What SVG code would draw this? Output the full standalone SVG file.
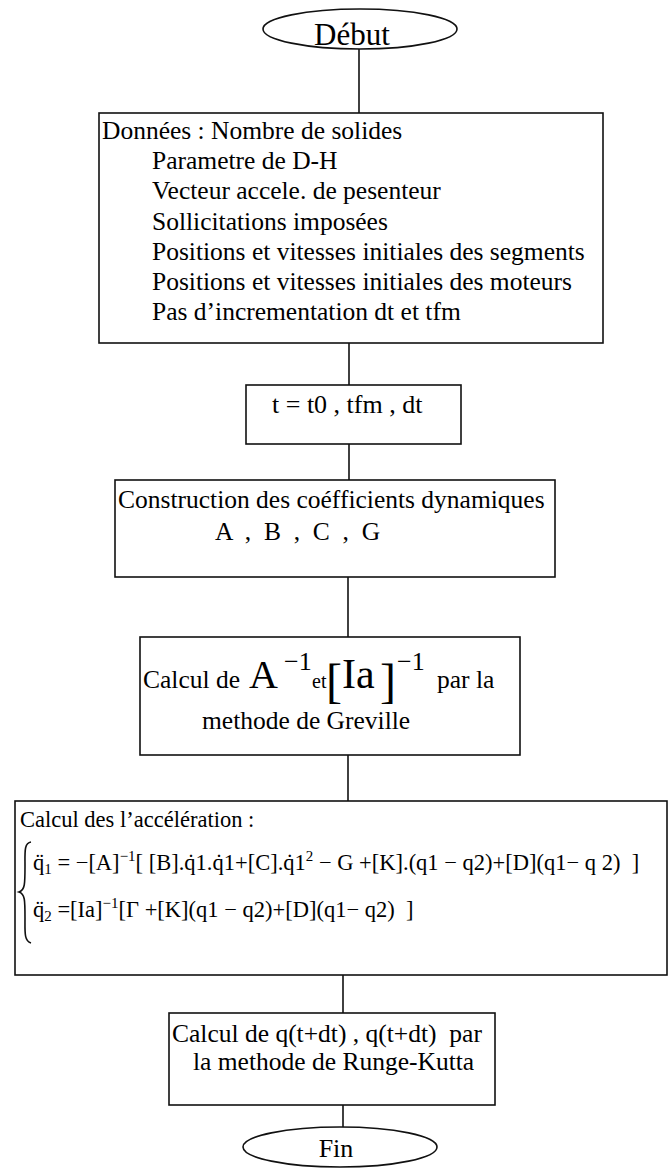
<svg xmlns="http://www.w3.org/2000/svg" width="671" height="1170" viewBox="0 0 671 1170">
<style>
.t{font-family:"Liberation Serif","Times New Roman",serif;fill:#000;font-size:25.5px;white-space:pre}
.s{font-size:22.5px}
.box{fill:#fff;stroke:#111;stroke-width:1.6}
.ln{stroke:#111;stroke-width:1.6;fill:none}
</style>
<rect width="671" height="1170" fill="#fff"/>
<g id="connectors">
<line class="ln" x1="359" y1="49" x2="359" y2="113"/>
<line class="ln" x1="349" y1="343" x2="349" y2="385"/>
<line class="ln" x1="349" y1="444" x2="349" y2="480"/>
<line class="ln" x1="348" y1="577" x2="348" y2="637"/>
<line class="ln" x1="348" y1="755" x2="348" y2="801"/>
<line class="ln" x1="343" y1="975" x2="343" y2="1013"/>
<line class="ln" x1="343" y1="1105" x2="343" y2="1128"/>
</g>
<g id="debut">
<ellipse class="box" cx="360" cy="29" rx="97" ry="20"/>
<text class="t" x="352" y="45" text-anchor="middle" style="font-size:31px">Début</text>
</g>
<g id="donnees">
<rect class="box" x="99" y="113" width="504" height="230"/>
<text class="t" x="102" y="139">Données : Nombre de solides</text>
<text class="t" x="152" y="169">Parametre de D-H</text>
<text class="t" x="152" y="199">Vecteur accele. de pesenteur</text>
<text class="t" x="152" y="230">Sollicitations imposées</text>
<text class="t" x="152" y="260">Positions et vitesses initiales des segments</text>
<text class="t" x="152" y="290">Positions et vitesses initiales des moteurs</text>
<text class="t" x="152" y="320">Pas d’incrementation dt et tfm</text>
</g>
<g id="init">
<rect class="box" x="246" y="385" width="215" height="59"/>
<text class="t" x="272" y="413" style="font-size:26px">t = t0 , tfm , dt</text>
</g>
<g id="construction">
<rect class="box" x="115" y="480" width="440" height="97"/>
<text class="t" x="118" y="508">Construction des coéfficients dynamiques</text>
<text class="t" x="215" y="540">A  ,  B  ,  C  ,  G</text>
</g>
<g id="inverse">
<rect class="box" x="140" y="637" width="380" height="118"/>
<text class="t" x="143" y="688">Calcul de</text>
<text class="t" x="249" y="688" style="font-size:40px">A</text>
<text class="t" x="284" y="670" style="font-size:26px">−1</text>
<text class="t" x="312" y="688" style="font-size:20px">et</text>
<text class="t" x="326" y="697" style="font-size:48px">[</text>
<text class="t" x="342" y="688" style="font-size:42px">Ia</text>
<text class="t" x="380" y="697" style="font-size:48px">]</text>
<text class="t" x="397" y="670" style="font-size:26px">−1</text>
<text class="t" x="437" y="688">par la</text>
<text class="t" x="202" y="729">methode de Greville</text>
</g>
<g id="acceleration">
<rect class="box" x="15" y="801" width="652" height="174"/>
<text class="t s" x="20" y="827">Calcul des l’accélération :</text>
<path class="ln" d="M31,842 C24,843 25,852 25,866 C25,884 25,890 19,892 C25,894 25,900 25,918 C25,932 24,941 31,943" stroke-width="1.2"/>
<text class="t s" x="33" y="870">q̈<tspan dy="4" style="font-size:15px">1</tspan><tspan dy="-4"> = −[A]</tspan><tspan dy="-9" style="font-size:15px">−1</tspan><tspan dy="9">[ [B].q̇1.q̇1+[C].q̇1</tspan><tspan dy="-9" style="font-size:15px">2</tspan><tspan dy="9"> − G +[K].(q1 − q2)+[D](q1− q 2)  ]</tspan></text>
<text class="t s" x="33" y="917">q̈<tspan dy="4" style="font-size:15px">2</tspan><tspan dy="-4"> =[Ia]</tspan><tspan dy="-9" style="font-size:15px">−1</tspan><tspan dy="9">[Γ +[K](q1 − q2)+[D](q1− q2)  ]</tspan></text>
</g>
<g id="rungekutta">
<rect class="box" x="169" y="1013" width="326" height="92"/>
<text class="t" x="172" y="1042">Calcul de q(t+dt) , q(t+dt)  par</text>
<text class="t" x="193" y="1070">la methode de Runge-Kutta</text>
</g>
<g id="fin">
<ellipse class="box" cx="340" cy="1147" rx="97" ry="20"/>
<text class="t" x="336" y="1157" text-anchor="middle" style="font-size:26px">Fin</text>
</g>
</svg>
